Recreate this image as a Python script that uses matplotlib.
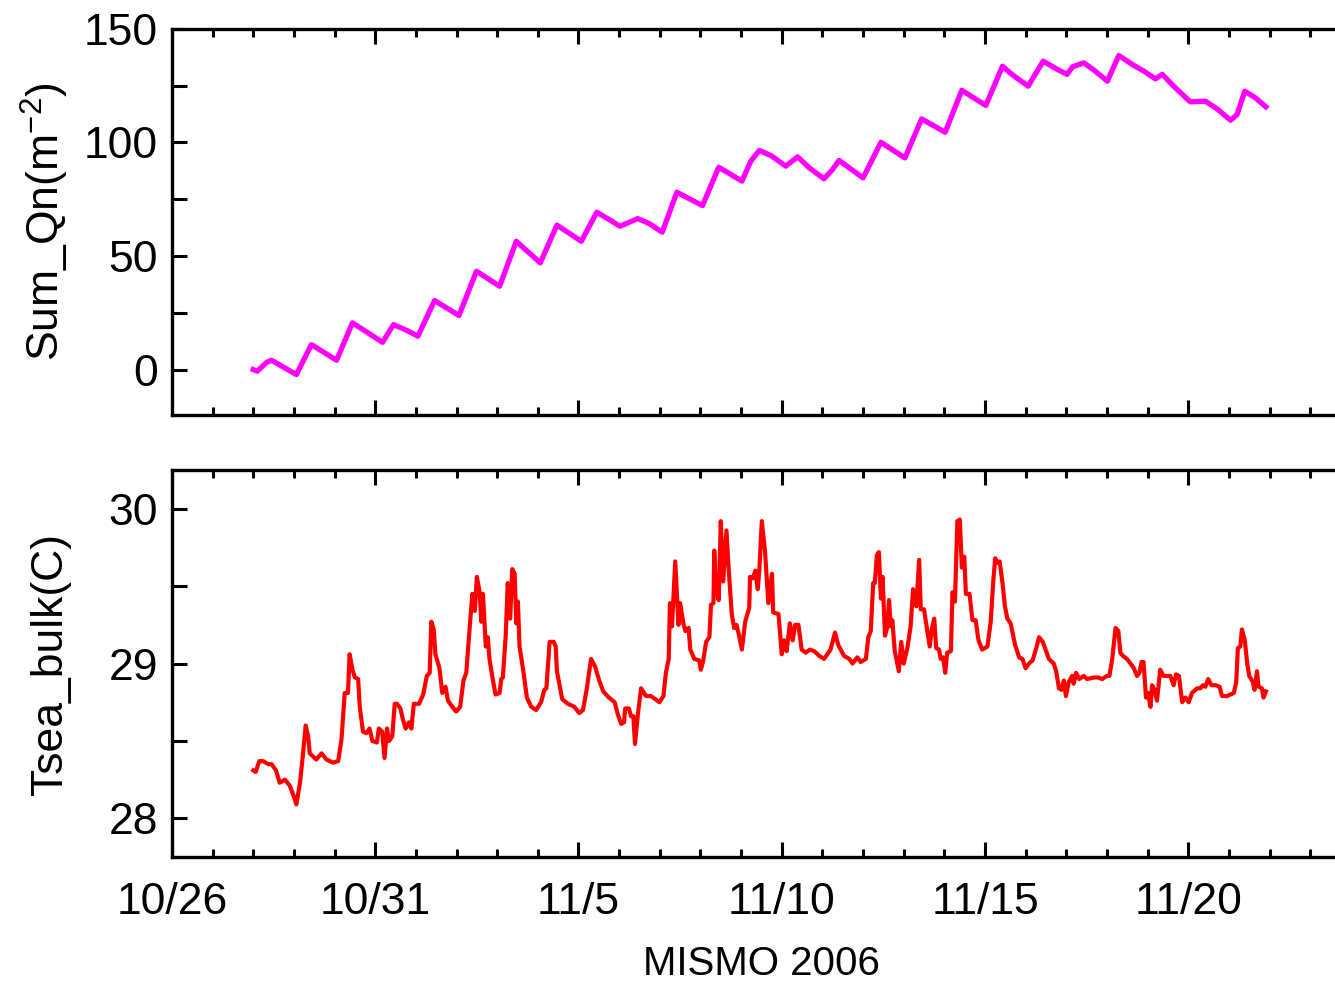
import matplotlib
matplotlib.use('Agg')
import matplotlib.pyplot as plt
from matplotlib.ticker import MultipleLocator

plt.rcParams['font.family'] = ['Liberation Sans', 'DejaVu Sans']
plt.rcParams['mathtext.fontset'] = 'custom'
plt.rcParams['mathtext.rm'] = 'Liberation Sans'

# x in days since 10/26 00:00 (MISMO 2006)
date_ticks = [0, 5, 10, 15, 20, 25]
date_labels = ['10/26', '10/31', '11/5', '11/10', '11/15', '11/20']

qn_day = [2.0, 2.1, 2.33, 2.45, 2.78, 3.06, 3.43, 4.05, 4.44, 5.18, 5.45, 5.77, 6.05,
          6.46, 7.06, 7.49, 8.06, 8.47, 9.06, 9.47, 10.07, 10.45, 10.76, 11.02, 11.46,
          11.74, 12.06, 12.42, 13.05, 13.45, 14.02, 14.24, 14.45, 14.73, 15.1, 15.39,
          15.68, 16.04, 16.25, 16.41, 17.0, 17.44, 18.03, 18.44, 19.02, 19.43, 20.02,
          20.43, 20.66, 21.06, 21.43, 21.78, 22.02, 22.15, 22.43, 22.68, 23.01, 23.29,
          23.62, 23.91, 24.19, 24.36, 24.68, 25.05, 25.42, 25.71, 26.04, 26.2, 26.39,
          26.65, 26.91]
qn_val = [0, -0.7, 3.2, 4.1, 0.7, -2.2, 11, 4.1, 20.6, 12, 19.8, 17.3, 14.7,
          30.4, 23.8, 43.3, 36.7, 56.5, 47, 63.6, 56.5, 69.3, 66, 63.1, 66.5,
          64.3, 60.5, 78.1, 72.2, 89.1, 83, 91.8, 96.5, 94.3, 89.6, 93.7,
          88.8, 84, 88.1, 92.1, 84.4, 100.1, 93.2, 110.4, 104.5, 123, 116.3,
          133.6, 130, 124.8, 135.8, 132.2, 130, 133.3, 135.1, 131.9, 127, 138.3,
          134.4, 131.4, 128, 130, 124.1, 117.9, 118.2, 114.8, 109.8, 112.3, 122.6,
          119.7, 115.7]

ts_day = [2.0, 2.06, 2.15, 2.24, 2.37, 2.45, 2.56, 2.65, 2.78, 2.9, 3.0, 3.06, 3.15,
          3.21, 3.29, 3.35, 3.39, 3.55, 3.68, 3.8, 3.96, 4.09, 4.17, 4.25, 4.33, 4.37,
          4.44, 4.5, 4.58, 4.62, 4.7, 4.78, 4.86, 4.93, 5.04, 5.09, 5.17, 5.23, 5.29,
          5.34, 5.42, 5.48, 5.54, 5.62, 5.68, 5.75, 5.83, 5.89, 5.95, 6.08, 6.18, 6.27,
          6.34, 6.38, 6.44, 6.48, 6.58, 6.65, 6.73, 6.79, 6.9, 6.99, 7.09, 7.17, 7.24,
          7.32, 7.39, 7.45, 7.5, 7.57, 7.61, 7.65, 7.72, 7.77, 7.81, 7.89, 7.96, 8.06,
          8.1, 8.14, 8.21, 8.26, 8.32, 8.37, 8.43, 8.47, 8.51, 8.55, 8.65, 8.73, 8.84,
          8.96, 9.08, 9.16, 9.21, 9.29, 9.33, 9.39, 9.44, 9.47, 9.6, 9.74, 9.9, 10.02,
          10.11, 10.2, 10.31, 10.41, 10.51, 10.61, 10.75, 10.89, 10.97, 11.05, 11.12,
          11.15, 11.24, 11.29, 11.35, 11.39, 11.46, 11.54, 11.66, 11.78, 11.89, 11.99,
          12.09, 12.15, 12.22, 12.25, 12.3, 12.38, 12.46, 12.5, 12.58, 12.63, 12.71,
          12.75, 12.85, 12.97, 13.01, 13.07, 13.14, 13.22, 13.26, 13.32, 13.34, 13.38,
          13.45, 13.5, 13.56, 13.64, 13.69, 13.77, 13.83, 13.89, 13.95, 14.02, 14.1,
          14.2, 14.22, 14.29, 14.35, 14.41, 14.45, 14.51, 14.59, 14.67, 14.76, 14.79,
          14.92, 15.0, 15.06, 15.12, 15.2, 15.27, 15.33, 15.41, 15.49, 15.59, 15.69,
          15.8, 15.92, 16.04, 16.12, 16.2, 16.31, 16.39, 16.53, 16.66, 16.74, 16.86,
          16.94, 17.07, 17.13, 17.19, 17.25, 17.29, 17.34, 17.39, 17.44, 17.48, 17.54,
          17.6, 17.64, 17.68, 17.72, 17.78, 17.88, 17.94, 18.0, 18.09, 18.17, 18.23,
          18.31, 18.38, 18.42, 18.5, 18.58, 18.64, 18.69, 18.75, 18.8, 18.87, 18.91,
          18.97, 19.02, 19.07, 19.16, 19.2, 19.26, 19.32, 19.38, 19.43, 19.49, 19.53,
          19.62, 19.69, 19.77, 19.84, 19.93, 20.06, 20.14, 20.2, 20.25, 20.3, 20.36,
          20.43, 20.49, 20.55, 20.63, 20.74, 20.84, 20.92, 21.0, 21.08, 21.17, 21.25,
          21.33, 21.42, 21.49, 21.57, 21.69, 21.75, 21.82, 21.88, 21.94, 21.99, 22.06,
          22.14, 22.18, 22.24, 22.32, 22.43, 22.51, 22.68, 22.78, 22.88, 23.0, 23.06,
          23.13, 23.21, 23.28, 23.33, 23.39, 23.49, 23.58, 23.66, 23.74, 23.8, 23.85,
          23.9, 23.96, 24.01, 24.07, 24.11, 24.17, 24.23, 24.31, 24.39, 24.56, 24.64,
          24.7, 24.77, 24.85, 24.93, 25.01, 25.09, 25.22, 25.3, 25.36, 25.42, 25.49,
          25.57, 25.68, 25.77, 25.83, 25.95, 26.04, 26.12, 26.18, 26.22, 26.28, 26.32,
          26.39, 26.45, 26.5, 26.59, 26.63, 26.69, 26.73, 26.81, 26.85, 26.91]
ts_val = [28.31, 28.30, 28.37, 28.37, 28.35, 28.35, 28.31, 28.23, 28.25, 28.21, 28.14, 28.09, 28.23,
          28.38, 28.60, 28.53, 28.42, 28.38, 28.42, 28.38, 28.36, 28.37, 28.51, 28.81, 28.81, 29.06,
          28.96, 28.91, 28.90, 28.72, 28.56, 28.55, 28.58, 28.50, 28.49, 28.58, 28.56, 28.39, 28.58,
          28.50, 28.53, 28.74, 28.74, 28.71, 28.64, 28.58, 28.62, 28.58, 28.74, 28.74, 28.80, 28.92,
          28.94, 29.27, 29.22, 29.06, 28.97, 28.81, 28.85, 28.76, 28.72, 28.69, 28.72, 28.89, 28.94,
          29.22, 29.45, 29.34, 29.56, 29.46, 29.27, 29.45, 29.11, 29.17, 29.03, 28.90, 28.80, 28.81,
          28.90, 28.91, 29.18, 29.52, 29.29, 29.61, 29.58, 29.26, 29.40, 29.11, 28.94, 28.78, 28.72,
          28.70, 28.75, 28.83, 28.84, 29.14, 29.14, 29.14, 29.11, 28.95, 28.77, 28.74, 28.72, 28.68,
          28.70, 28.83, 29.03, 28.98, 28.89, 28.82, 28.78, 28.75, 28.67, 28.61, 28.62,
          28.71, 28.71, 28.66, 28.66, 28.48, 28.67, 28.84, 28.79, 28.79, 28.77, 28.75,
          28.79, 28.94, 29.03, 29.39, 29.24, 29.66, 29.25, 29.39, 29.26, 29.21, 29.23,
          29.09, 29.03, 29.02, 28.96, 29.02, 29.14, 29.17, 29.38, 29.39, 29.73, 29.48,
          29.41, 29.92, 29.53, 29.86, 29.63, 29.32, 29.23, 29.25, 29.18, 29.09, 29.27,
          29.36, 29.56, 29.55, 29.60, 29.48, 29.61, 29.92, 29.72, 29.39, 29.58, 29.33,
          29.32, 29.06, 29.15, 29.08, 29.26, 29.15, 29.25, 29.25, 29.09, 29.07, 29.09,
          29.08, 29.05, 29.03, 29.06, 29.09, 29.20, 29.12, 29.05, 29.03, 29.00, 29.04,
          29.01, 29.03, 29.17, 29.21, 29.52, 29.52, 29.70, 29.72, 29.42, 29.56, 29.18,
          29.24, 29.41, 29.24, 29.28, 29.08, 28.95, 29.14, 29.00, 29.10, 29.24, 29.48,
          29.37, 29.67, 29.35, 29.35, 29.21, 29.11, 29.22, 29.29, 29.10, 29.09, 29.03,
          29.04, 28.94, 29.07, 29.08, 29.46, 29.40, 29.92, 29.93, 29.62, 29.69, 29.45,
          29.45, 29.28, 29.28, 29.15, 29.09, 29.11, 29.27, 29.52, 29.68, 29.65, 29.66,
          29.52, 29.37, 29.29, 29.26, 29.12, 29.04, 29.03, 28.97, 29.00, 29.02, 29.09,
          29.17, 29.14, 29.09, 29.03, 29.00, 28.95, 28.84, 28.83, 28.89, 28.79, 28.88,
          28.92, 28.87, 28.94, 28.90, 28.92, 28.90, 28.91, 28.91, 28.90, 28.92, 28.92,
          29.03, 29.23, 29.21, 29.07, 29.05, 29.03, 29.00, 28.97, 28.92, 28.94, 29.01,
          29.01, 28.78, 28.81, 28.72, 28.86, 28.83, 28.76, 28.96, 28.92, 28.92, 28.86,
          28.93, 28.92, 28.75, 28.78, 28.75, 28.81, 28.84, 28.84, 28.86, 28.85, 28.90,
          28.86, 28.86, 28.85, 28.79, 28.79, 28.80, 28.81, 28.88, 29.10, 29.11, 29.22,
          29.15, 29.00, 28.92, 28.88, 28.83, 28.95, 28.85, 28.84, 28.78, 28.82]

qn_ticks = [0, 50, 100, 150]
ts_ticks = [28, 29, 30]


def style(ax):
    for s in ax.spines.values():
        s.set_linewidth(2.4)
    ax.set_xlim(0, 29)
    ax.set_xticks(date_ticks)
    ax.xaxis.set_minor_locator(MultipleLocator(1))
    ax.tick_params(which='both', direction='in', top=True, right=True, width=2.2,
                   labelsize=32)
    ax.tick_params(which='major', length=11)
    ax.tick_params(axis='x', which='minor', length=6)
    ax.tick_params(axis='y', which='minor', length=11, right=False)
    ax.tick_params(axis='x', pad=18)
    ax.tick_params(axis='y', pad=10)


fig = plt.figure(figsize=(13.35, 9.85), dpi=100)
ax1 = fig.add_axes([0.1288, 0.5787, 0.8831, 0.3919])
ax2 = fig.add_axes([0.1288, 0.1299, 0.8831, 0.3929])

ax1.plot(qn_day, qn_val, color='#ff00ff', lw=3.8, solid_joinstyle='round')
style(ax1)
ax1.set_ylim(-20, 150)
ax1.set_yticks(qn_ticks)
ax1.yaxis.set_minor_locator(MultipleLocator(25))
ax1.set_xticklabels([])
ax1.set_ylabel('Sum_Qn(m$^{\\mathregular{-2}}$)', fontsize=32)
ax1.yaxis.set_label_coords(-0.086, 0.5)

ax2.plot(ts_day, ts_val, color='#ff0000', lw=3.0, solid_joinstyle='round')
style(ax2)
ax2.set_ylim(27.75, 30.25)
ax2.set_yticks(ts_ticks)
ax2.yaxis.set_minor_locator(MultipleLocator(0.5))
ax2.set_xticklabels(date_labels)
ax2.set_ylabel('Tsea_bulk(C)', fontsize=32)
ax2.yaxis.set_label_coords(-0.086, 0.5)
ax2.set_xlabel('MISMO 2006', fontsize=29, labelpad=16)

fig.savefig('out.png', dpi=100)
